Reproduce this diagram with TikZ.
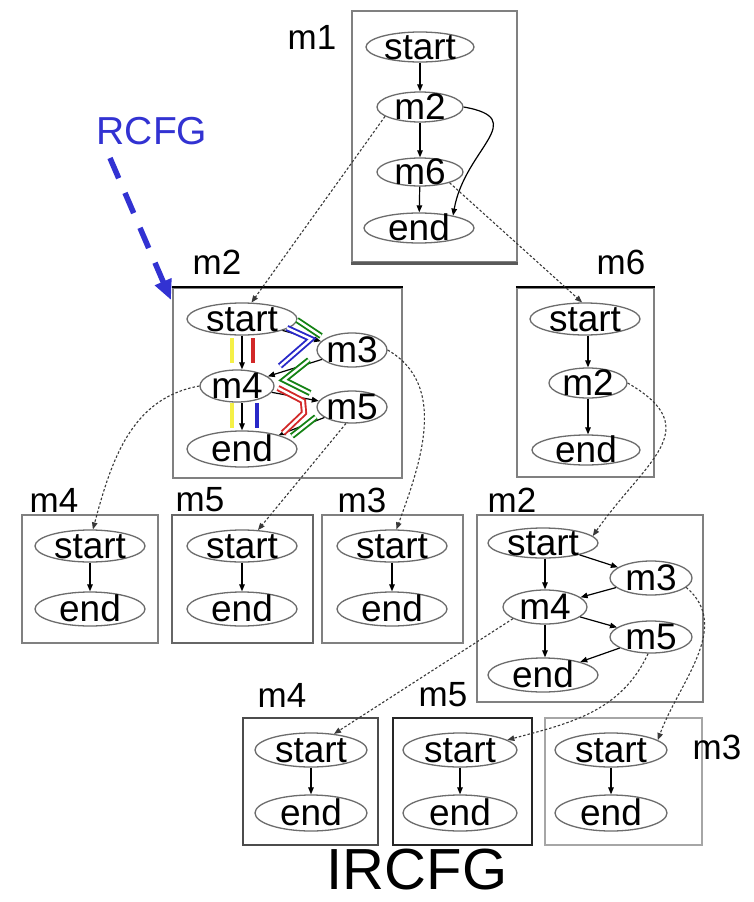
\documentclass[tikz,border=0pt]{standalone}
\usepackage{fontspec}
\setmainfont{Liberation Sans}
\usetikzlibrary{arrows.meta,shapes.geometric}
\definecolor{rcfgblue}{RGB}{50,50,210}
\definecolor{hlyellow}{RGB}{245,240,70}
\definecolor{hlred}{RGB}{210,40,40}
\definecolor{hlblue}{RGB}{40,40,200}
\definecolor{hlgreen}{RGB}{20,130,20}
\newcommand\lbl[1]{\smash{\raisebox{-0.34em}{\makebox[0pt]{#1}}}}
\begin{document}
\begin{tikzpicture}[x=1pt,y=1pt,
 el/.style={ellipse, draw=gray!85!black, line width=1.3pt, fill=white, inner sep=0pt, font=\fontsize{37}{40}\selectfont},
 boxg/.style={rectangle, draw=gray, line width=2.2pt, inner sep=0pt},
 lab/.style={font=\fontsize{35}{38}\selectfont, inner sep=0pt},
 arr/.style={-{Triangle[length=7pt,width=5.5pt]}, line width=1.2pt, black},
 dsh/.style={-{Triangle[length=7pt,width=5.5pt]}, line width=1.1pt, gray!45!black, dash pattern=on 2.5pt off 2pt},
 hl/.style={draw=#1, double=white, line width=1.9pt, double distance=2.4pt},
 bar/.style={draw=#1, line width=4.5pt},
]
\useasboundingbox[fill=white] (0,0) rectangle (753,-902);

% ---------- boxes ----------
\node[boxg, minimum width=165, minimum height=251] (B1) at (434.5,-136.5) {};
\node[boxg, minimum width=229, minimum height=190] (B2) at (287.5,-383) {};
\node[boxg, minimum width=137, minimum height=189] (B6) at (585.5,-382.5) {};
\node[boxg, minimum width=136, minimum height=128] (C4) at (90,-579) {};
\node[boxg, minimum width=141, minimum height=128, draw=gray!80!black] (C5) at (242.5,-579) {};
\node[boxg, minimum width=141, minimum height=128] (C3) at (392.5,-579) {};
\node[boxg, minimum width=226, minimum height=187] (D2) at (590,-608.5) {};
\node[boxg, minimum width=135, minimum height=127, draw=gray!60!black] (E4) at (310.5,-781.5) {};
\node[boxg, minimum width=139, minimum height=127, draw=black!85] (E5) at (462.5,-781.5) {};
\node[boxg, minimum width=157, minimum height=127, draw=gray!70] (E3) at (623.5,-781.5) {};
\draw[black, line width=2.2pt] (B2.north west) -- (B2.north east);
\draw[black, line width=2.2pt] (B6.north west) -- (B6.north east);
\draw[gray!70!black, line width=3pt] (B1.south west) -- (B1.south east);

% ---------- box labels ----------
\node[lab] (L1) at (312,-37) {m1};
\node[lab] (L2) at (217,-262) {m2};
\node[lab] (L6) at (621,-262) {m6};
\node[lab] (LC4) at (54,-500) {m4};
\node[lab] (LC5) at (200,-500) {m5};
\node[lab] (LC3) at (362,-500) {m3};
\node[lab] (LD2) at (512,-500) {m2};
\node[lab] (LE4) at (282,-695) {m4};
\node[lab] (LE5) at (443,-695) {m5};
\node[lab] (LE3) at (717,-747) {m3};

% ---------- m1 ----------
\node[el, minimum width=108, minimum height=30] (A1s) at (420,-47) {\lbl{start}};
\node[el, minimum width=86, minimum height=30] (A1m2) at (420,-107) {\lbl{m2}};
\node[el, minimum width=86, minimum height=28] (A1m6) at (420,-172) {\lbl{m6}};
\node[el, minimum width=110, minimum height=30] (A1e) at (419,-228) {\lbl{end}};

% ---------- RCFG m2 ----------
\node[el, minimum width=110, minimum height=32] (B2s) at (242,-319) {\lbl{start}};
\node[el, minimum width=70, minimum height=34] (B2m3) at (352,-350) {\lbl{m3}};
\node[el, minimum width=74, minimum height=32] (B2m4) at (237,-386) {\lbl{m4}};
\node[el, minimum width=70, minimum height=32] (B2m5) at (352,-407) {\lbl{m5}};
\node[el, minimum width=110, minimum height=36] (B2e) at (242,-449) {\lbl{end}};

% ---------- m6 ----------
\node[el, minimum width=110, minimum height=32] (B6s) at (585,-319) {\lbl{start}};
\node[el, minimum width=78, minimum height=30] (B6m2) at (588,-383) {\lbl{m2}};
\node[el, minimum width=108, minimum height=30] (B6e) at (586,-450) {\lbl{end}};

% ---------- row 3 ----------
\node[el, minimum width=110, minimum height=32] (C4s) at (90,-546) {\lbl{start}};
\node[el, minimum width=110, minimum height=34] (C4e) at (90,-609) {\lbl{end}};
\node[el, minimum width=110, minimum height=32] (C5s) at (242,-546) {\lbl{start}};
\node[el, minimum width=110, minimum height=34] (C5e) at (242,-609) {\lbl{end}};
\node[el, minimum width=110, minimum height=32] (C3s) at (392,-546) {\lbl{start}};
\node[el, minimum width=110, minimum height=34] (C3e) at (392,-609) {\lbl{end}};

% ---------- right m2 ----------
\node[el, minimum width=110, minimum height=30] (D2s) at (543,-543) {\lbl{start}};
\node[el, minimum width=82, minimum height=34] (D2m3) at (651,-578) {\lbl{m3}};
\node[el, minimum width=84, minimum height=34] (D2m4) at (545,-607) {\lbl{m4}};
\node[el, minimum width=82, minimum height=32] (D2m5) at (651,-637) {\lbl{m5}};
\node[el, minimum width=110, minimum height=34] (D2e) at (543,-675) {\lbl{end}};

% ---------- row 4 ----------
\node[el, minimum width=112, minimum height=34] (E4s) at (311,-750) {\lbl{start}};
\node[el, minimum width=112, minimum height=36] (E4e) at (311,-813) {\lbl{end}};
\node[el, minimum width=114, minimum height=34] (E5s) at (460,-750) {\lbl{start}};
\node[el, minimum width=114, minimum height=36] (E5e) at (460,-813) {\lbl{end}};
\node[el, minimum width=112, minimum height=34] (E3s) at (611,-750) {\lbl{start}};
\node[el, minimum width=112, minimum height=36] (E3e) at (611,-813) {\lbl{end}};

% ---------- titles ----------
\node[font=\fontsize{39}{42}\selectfont, text=rcfgblue, inner sep=0pt] (rcfg) at (152,-131) {RCFG};
\node[font=\fontsize{58}{62}\selectfont, inner sep=0pt] (ircfg) at (417,-870) {IRCFG};
\coordinate (ra) at (110,-158);
\coordinate (rb) at (171,-300);
\draw[rcfgblue, line width=5.5pt, dash pattern=on 22pt off 16pt, -{Triangle[length=20pt,width=17pt]}] (ra) -- (rb);

% ---------- solid edges ----------
\draw[arr] (A1s) -- (A1m2);
\draw[arr] (A1m2) -- (A1m6);
\draw[arr] (A1m6) -- (A1e);
\draw[arr] (A1m2.east) to[out=-10,in=80,looseness=1.6] (A1e.20);

\draw[arr] (B2s.south) -- (B2s.south |- B2m4.north);
\draw[arr] (B2e.north |- B2m4.south) -- (B2e.north);
\draw[arr] (B2s) -- (B2m3);
\draw[arr] (B2m3) -- (B2m4);
\draw[arr] (B2m4) -- (B2m5);
\draw[arr] (B2m5) -- (B2e);

\draw[arr] (B6m2.north |- B6s.south) -- (B6m2.north);
\draw[arr] (B6m2.south) -- (B6m2.south |- B6e.north);

\draw[arr] (C4s) -- (C4e);
\draw[arr] (C5s) -- (C5e);
\draw[arr] (C3s) -- (C3e);

\draw[arr] (D2m4.north |- D2s.south) -- (D2m4.north);
\draw[arr] (D2m4.south) -- (D2m4.south |- D2e.north);
\draw[arr] (D2s) -- (D2m3);
\draw[arr] (D2m3) -- (D2m4);
\draw[arr] (D2m4) -- (D2m5);
\draw[arr] (D2m5) -- (D2e);

\draw[arr] (E4s) -- (E4e);
\draw[arr] (E5s) -- (E5e);
\draw[arr] (E3s) -- (E3e);

% ---------- highlights ----------
\draw[bar=hlyellow] (232,-338) -- (232,-363);
\draw[bar=hlred] (253,-338) -- (253,-363);
\draw[bar=hlyellow] (232,-403) -- (232,-428);
\draw[bar=hlblue] (257,-403) -- (257,-428);
\draw[hl=hlblue] (287,-328) -- (311,-339) -- (280,-366);
\draw[hl=hlgreen] (297,-320) -- (321,-336);
\draw[hl=hlgreen] (309,-360) -- (284,-380) -- (310,-393);
\draw[hl=hlred] (278,-388) -- (303,-401) -- (304,-413) -- (283,-433);
\draw[hl=hlgreen] (316,-417) -- (292,-436);

% ---------- dashed call edges ----------
\draw[dsh] (A1m2.195) -- (B2s.60);
\draw[dsh] (A1m6.-20) -- (B6s.100);
\draw[dsh] (B2m4.west) to[out=190,in=75] (C4s.80);
\draw[dsh] (B2m5.-110) -- (C5s.45);
\draw[dsh] (B2m3.east) to[out=-30,in=70] (C3s.75);
\draw[dsh] (B6m2.east) to[out=-30,in=55,looseness=1.5] (D2s.8);
\draw[dsh] (D2m4.200) -- (E4s.35);
\draw[dsh] (D2m5.-100) to[out=-115,in=15] (E5s.12);
\draw[dsh] (D2m3.-15) to[out=-40,in=70] (E3s.12);
\end{tikzpicture}
\end{document}
